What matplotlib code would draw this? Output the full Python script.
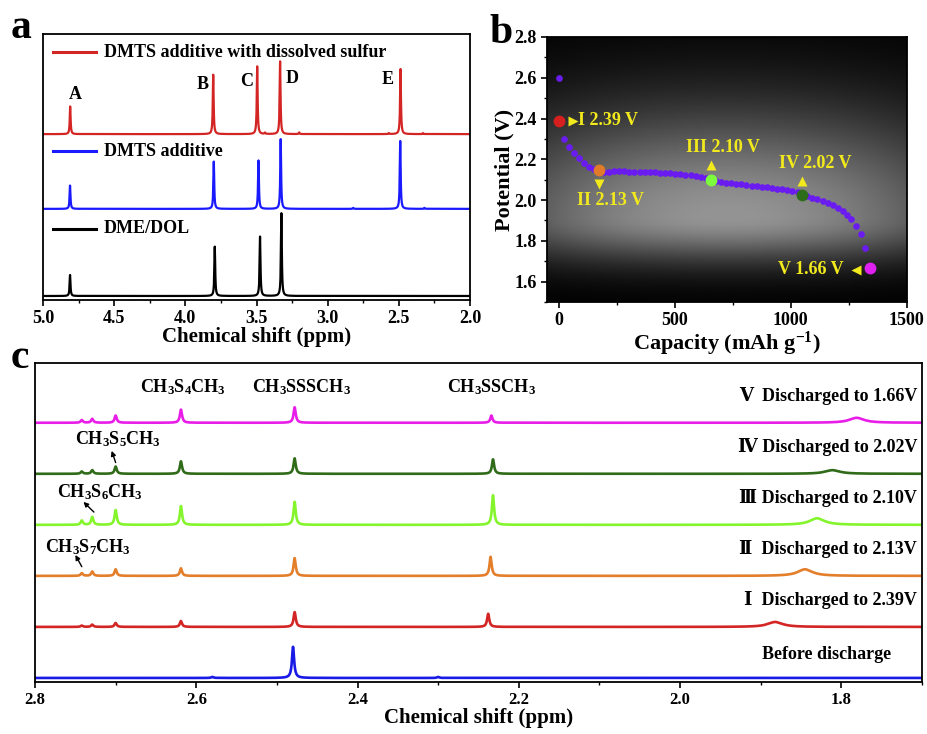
import numpy as np
import matplotlib
matplotlib.use('Agg')
import matplotlib.pyplot as plt
from matplotlib.ticker import MultipleLocator

plt.rcParams['font.family'] = ['Liberation Serif', 'DejaVu Serif']
plt.rcParams['font.weight'] = 'bold'
plt.rcParams['axes.labelweight'] = 'bold'
plt.rcParams['mathtext.fontset'] = 'custom'
plt.rcParams['mathtext.rm'] = 'Liberation Serif:bold'
plt.rcParams['mathtext.it'] = 'Liberation Serif:bold:italic'
plt.rcParams['mathtext.bf'] = 'Liberation Serif:bold'
plt.rcParams['mathtext.default'] = 'rm'

# ---------------- panel a data (1H NMR of electrolytes)
a_names = ['DME/DOL', 'DMTS additive', 'DMTS additive with dissolved sulfur']
a_colors = ['black', '#1a1aff', '#d42525']
a_offsets = [0.0, 2.61, 4.85]
a_peak_pos = [[4.81, 3.793, 3.475, 3.325],
              [4.81, 3.800, 3.486, 3.330, 2.490, 2.82, 2.32],
              [4.809, 3.804, 3.495, 3.334, 2.488, 3.44, 3.20, 2.57, 2.33]]
a_peak_h = [[0.63, 1.48, 1.78, 2.48],
            [0.70, 1.42, 1.45, 2.09, 2.04, 0.03, 0.03],
            [0.83, 1.78, 2.03, 2.18, 1.95, 0.04, 0.05, 0.03, 0.03]]
a_letters = ['A', 'B', 'C', 'D', 'E']
a_letter_x = [4.77, 3.876, 3.567, 3.25, 2.575]
a_letter_y = [6.03, 6.33, 6.43, 6.53, 6.48]

# ---------------- panel b data (discharge curve)
cap = [0, 23, 43, 66, 89, 111, 133, 152, 195, 217, 239, 261, 283, 305, 327,
       349, 371, 393, 415, 437, 459, 481, 503, 525, 547, 569, 591, 613, 635,
       678, 700, 722, 744, 766, 788, 810, 832, 854, 876, 898, 920, 942, 964,
       986, 1008, 1030, 1072, 1094, 1116, 1138, 1160, 1182, 1204, 1226, 1245,
       1262, 1282, 1302, 1322]
pot = [2.60, 2.30, 2.26, 2.23, 2.205, 2.18, 2.16, 2.15, 2.140, 2.140, 2.141,
       2.141, 2.141, 2.140, 2.140, 2.139, 2.138, 2.137, 2.136, 2.134, 2.133,
       2.131, 2.129, 2.127, 2.124, 2.121, 2.117, 2.113, 2.108, 2.094, 2.090,
       2.086, 2.083, 2.080, 2.077, 2.074, 2.071, 2.068, 2.065, 2.062, 2.059,
       2.056, 2.053, 2.049, 2.045, 2.040, 2.019, 2.012, 2.004, 1.995, 1.986,
       1.975, 1.962, 1.945, 1.925, 1.905, 1.875, 1.835, 1.765]
stage_cap = [0, 173, 656, 1050, 1343]
stage_pot = [2.39, 2.145, 2.10, 2.027, 1.665]
stage_colors = ['#d62020', '#e07b2a', '#7cfc3c', '#2e6e1a', '#e020f0']
stage_labels = ['I 2.39 V', 'II 2.13 V', 'III 2.10 V', 'IV 2.02 V', 'V 1.66 V']

# ---------------- panel c data (1H NMR after discharge)
c_labels = ['Before discharge', 'Ⅰ  Discharged to 2.39V', 'Ⅱ  Discharged to 2.13V',
            'Ⅲ Discharged to 2.10V', 'Ⅳ Discharged to 2.02V', 'Ⅴ  Discharged to 1.66V']
c_colors = ['#1a1ae6', '#d42525', '#e37e2a', '#84f52c', '#2f6b18', '#e81ee8']
c_peak_pos = [[2.742, 2.729, 2.700, 2.619, 2.480, 2.234, 2.58, 2.30],
              [2.742, 2.729, 2.700, 2.619, 2.478, 2.238],
              [2.742, 2.729, 2.700, 2.619, 2.478, 2.235],
              [2.742, 2.729, 2.700, 2.619, 2.478, 2.232],
              [2.742, 2.729, 2.700, 2.619, 2.478, 2.232],
              [2.742, 2.729, 2.700, 2.619, 2.478, 2.234]]
c_peak_h = [[0.0, 0.0, 0.0, 0.0, 0.61, 0.0, 0.02, 0.02],
            [0.026, 0.045, 0.077, 0.116, 0.29, 0.258],
            [0.052, 0.084, 0.129, 0.148, 0.348, 0.374],
            [0.084, 0.155, 0.29, 0.368, 0.452, 0.58],
            [0.045, 0.071, 0.142, 0.245, 0.303, 0.284],
            [0.052, 0.077, 0.142, 0.258, 0.303, 0.142]]
c_broad_pos = [1.9, 1.882, 1.845, 1.830, 1.811, 1.781]
c_broad_h = [0.0, 0.097, 0.129, 0.129, 0.071, 0.097]
species = ['CH$_3$S$_4$CH$_3$', 'CH$_3$SSSCH$_3$', 'CH$_3$SSCH$_3$']
species_x = [2.617, 2.469, 2.234]
poly_labels = ['CH$_3$S$_5$CH$_3$', 'CH$_3$S$_6$CH$_3$', 'CH$_3$S$_7$CH$_3$']
poly_x = [2.697, 2.719, 2.734]
poly_y = [4.68, 3.65, 2.57]
poly_arrow_from = [(2.705, 4.45), (2.740, 3.45), (2.750, 2.41)]
poly_arrow_to = [(2.700, 4.22), (2.727, 3.25), (2.742, 2.18)]


def spectrum(x, pos, h, w):
    y = np.zeros_like(x)
    for p, hh in zip(pos, h):
        y = y + hh / (1 + ((x - p) / w) ** 2)
    return y


fig = plt.figure(figsize=(9.27, 7.34), dpi=100)

# ================= a
axa = fig.add_axes([0.0464, 0.5913, 0.4606, 0.3624])
xa = np.linspace(2.0, 5.0, 8000)
for i in range(len(a_names)):
    ya = a_offsets[i] + spectrum(xa, a_peak_pos[i], a_peak_h[i], 0.0035)
    axa.plot(xa, ya, color=a_colors[i], lw=1.6)
for i in range(len(a_letters)):
    axa.text(a_letter_x[i], a_letter_y[i], a_letters[i], fontsize=13,
             ha='center', va='center', fontweight='bold')
leg_y = [0.267, 0.56, 0.932]
for i in range(len(a_names)):
    axa.plot([0.023, 0.124], [leg_y[i], leg_y[i]], color=a_colors[i], lw=2.2,
             transform=axa.transAxes)
    axa.text(0.143, leg_y[i], a_names[i], transform=axa.transAxes, fontsize=13,
             va='center', ha='left', fontweight='bold')
axa.set_xlim(5.0, 2.0)
axa.set_ylim(-0.12, 7.85)
axa.set_yticks([])
axa.xaxis.set_major_locator(MultipleLocator(0.5))
axa.xaxis.set_minor_locator(MultipleLocator(0.25))
axa.tick_params(axis='x', direction='out', labelsize=13, length=4, width=1.2)
axa.tick_params(axis='x', which='minor', direction='out', length=2.5, width=1)
axa.set_xlabel('Chemical shift (ppm)', fontsize=15, labelpad=0)
for s in axa.spines.values():
    s.set_linewidth(1.3)

# ================= b
axb = fig.add_axes([0.590, 0.5886, 0.388, 0.361])
gy = np.linspace(0, 1, 300)[:, None]
gx = np.linspace(0, 1, 300)[None, :]
sig = np.where(gy > 0.32, 0.42, 0.17)
val = 0.58 * np.exp(-((gy - 0.32) / sig) ** 2) * (1 - 0.35 * (2 * gx - 1) ** 2)
axb.imshow(val, cmap='gray', vmin=0, vmax=1, origin='lower',
           extent=[-50, 1500, 1.5, 2.8], aspect='auto', zorder=0)
axb.plot(cap, pot, 'o', color='#6a1cf0', ms=4.8, mec='none', zorder=2)
for i in range(len(stage_cap)):
    axb.plot(stage_cap[i], stage_pot[i], 'o', color=stage_colors[i], ms=8.5,
             mec='none', zorder=3)
yel = '#f2ea1c'
c0, v0 = stage_cap[0], stage_pot[0]
axb.plot(c0 + 62, v0, '>', color=yel, ms=7, mec='none')
axb.text(c0 + 85, v0, stage_labels[0], color=yel, fontsize=13, va='center', ha='left')
c1, v1 = stage_cap[1], stage_pot[1]
axb.plot(c1, v1 - 0.066, 'v', color=yel, ms=7, mec='none')
axb.text(c1 + 53, v1 - 0.145, stage_labels[1], color=yel, fontsize=13, va='center', ha='center')
c2, v2 = stage_cap[2], stage_pot[2]
axb.plot(c2, v2 + 0.07, '^', color=yel, ms=7, mec='none')
axb.text(c2 + 53, v2 + 0.16, stage_labels[2], color=yel, fontsize=13, va='center', ha='center')
c3, v3 = stage_cap[3], stage_pot[3]
axb.plot(c3, v3 + 0.068, '^', color=yel, ms=7, mec='none')
axb.text(c3 + 58, v3 + 0.153, stage_labels[3], color=yel, fontsize=13, va='center', ha='center')
c4, v4 = stage_cap[4], stage_pot[4]
axb.plot(c4 - 60, v4 - 0.008, '<', color=yel, ms=7, mec='none')
axb.text(c4 - 115, v4 - 0.005, stage_labels[4], color=yel, fontsize=13, va='center', ha='right')
axb.set_xlim(-50, 1500)
axb.set_ylim(1.5, 2.8)
axb.xaxis.set_major_locator(MultipleLocator(500))
axb.xaxis.set_minor_locator(MultipleLocator(250))
axb.yaxis.set_major_locator(MultipleLocator(0.2))
axb.yaxis.set_minor_locator(MultipleLocator(0.1))
axb.tick_params(direction='out', labelsize=13, length=4, width=1.2)
axb.tick_params(which='minor', direction='out', length=2.5, width=1)
axb.set_xlabel('Capacity (mAh g$^{-1}$)', fontsize=16, labelpad=0)
axb.set_ylabel('Potential (V)', fontsize=16, labelpad=0)
for s in axb.spines.values():
    s.set_linewidth(1.3)

# ================= c
axc = fig.add_axes([0.0378, 0.0708, 0.9568, 0.4346])
xc = np.linspace(1.7, 2.8, 9000)
for i in range(len(c_labels)):
    yc = i + spectrum(xc, c_peak_pos[i], c_peak_h[i], 0.0016)
    yc = yc + spectrum(xc, [c_broad_pos[i]], [c_broad_h[i]], 0.011)
    axc.plot(xc, yc, color=c_colors[i], lw=1.9)
    if i == 0:
        axc.text(1.738, i + 0.45, c_labels[i], fontsize=13, ha='right', va='center')
    else:
        axc.text(1.706, i + 0.53, c_labels[i], fontsize=13, ha='right', va='center',
                 family=['Liberation Serif', 'DejaVu Serif', 'Noto Sans CJK SC'])
for i in range(len(species)):
    axc.text(species_x[i], 5.7, species[i], fontsize=13, ha='center', va='center')
for i in range(len(poly_labels)):
    axc.text(poly_x[i], poly_y[i], poly_labels[i], fontsize=13, ha='center', va='center')
    axc.annotate('', xy=poly_arrow_from[i], xytext=poly_arrow_to[i],
                 arrowprops=dict(arrowstyle='-|>', color='black', lw=1,
                                 mutation_scale=7, shrinkA=0, shrinkB=0))
axc.set_xlim(2.8, 1.7)
axc.set_ylim(-0.08, 6.17)
axc.set_yticks([])
axc.xaxis.set_major_locator(MultipleLocator(0.2))
axc.xaxis.set_minor_locator(MultipleLocator(0.1))
axc.tick_params(axis='x', direction='out', labelsize=12, length=4, width=1.2)
axc.tick_params(axis='x', which='minor', direction='out', length=2.5, width=1)
axc.set_xlabel('Chemical shift (ppm)', fontsize=15, labelpad=0)
for s in axc.spines.values():
    s.set_linewidth(1.3)

fig.text(0.012, 0.962, 'a', fontsize=30, fontweight='bold', va='center', ha='left')
fig.text(0.528, 0.955, 'b', fontsize=30, fontweight='bold', va='center', ha='left')
fig.text(0.012, 0.512, 'c', fontsize=30, fontweight='bold', va='center', ha='left')

fig.savefig('out.png', dpi=100)
